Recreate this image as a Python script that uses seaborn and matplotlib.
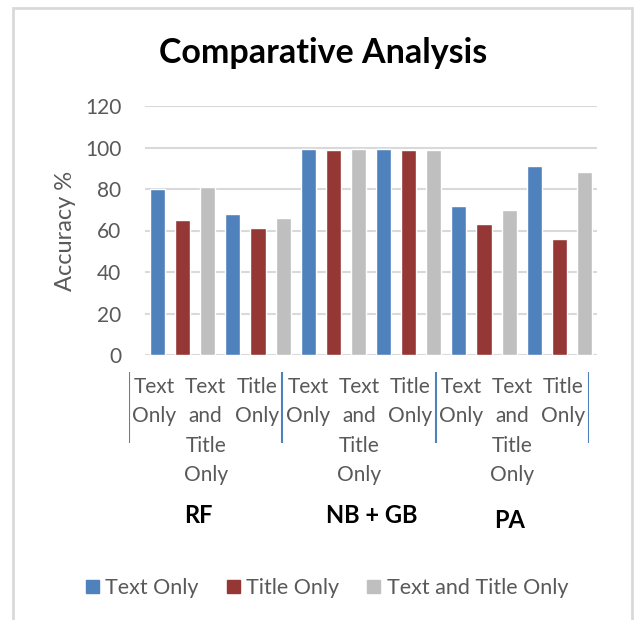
import matplotlib
matplotlib.use("Agg")
import matplotlib.pyplot as plt
import seaborn as sns
import pandas as pd
from matplotlib.patches import Rectangle

# ---- data ----
models = ["RF", "NB + GB", "PA"]
variants = ["Text\nOnly", "Text\nand\nTitle\nOnly", "Title\nOnly"]
series = ["Text Only", "Title Only", "Text and Title Only"]
text_only = [80, 68, 99.5, 99.5, 72, 91]
title_only = [65, 61, 99, 99, 63, 56]
text_title = [81, 66, 99.5, 99, 70, 88]
yticks = [0, 20, 40, 60, 80, 100, 120]

colors = {"Text Only": "#4F81BD", "Title Only": "#953735",
          "Text and Title Only": "#BFBFBF"}
GRAY = "#595959"

rows = []
k = 0
for i in range(len(text_only)):
    for s, vals in zip(series, [text_only, title_only, text_title]):
        rows.append({"slot": f"s{k:02d}", "series": s, "value": vals[i]})
        k += 1
df = pd.DataFrame(rows)
order = list(df["slot"])

sns.set_style("white")
plt.rcParams["font.family"] = ["Lato", "DejaVu Sans"]

W, H = 634, 620
fig = plt.figure(figsize=(W / 100, H / 100), dpi=100)

def fx(px):
    return px / W

def fy(py):
    return 1 - py / H

ax = fig.add_axes([fx(145), fy(355), fx(597) - fx(145), fy(106) - fy(355)])
sns.barplot(data=df, x="slot", y="value", hue="series", order=order,
            hue_order=series, palette=colors, dodge=False, width=0.6,
            ax=ax, legend=False, saturation=1)
ax.set_xlim(-0.5, len(order) - 0.5)
ax.set_ylim(0, 120)
ax.set_yticks(yticks)
ax.set_xticks([])
ax.set_xlabel("")
ax.set_ylabel("")
ax.yaxis.grid(True, color="#D9D9D9", lw=1.5)
ax.set_axisbelow(True)
for sp in ax.spines.values():
    sp.set_visible(False)
ax.tick_params(axis="y", length=0, pad=17, labelsize=15, labelcolor=GRAY)

fig.text(fx(66), fy(231), "Accuracy %", rotation=90, ha="center",
         va="center", fontsize=17, color=GRAY)

fig.text(fx(323), fy(53), "Comparative Analysis", ha="center", va="center",
         fontsize=24.5, fontweight="bold", color="black")

# category axis
ax2 = fig.add_axes([fx(129), fy(443), fx(589) - fx(129), fy(372) - fy(443)])
ax2.set_xlim(0, 9)
ax2.set_ylim(0, 1)
ax2.axis("off")
ax2.vlines([0, 3, 6, 9], 0, 1, color="#4F81BD", lw=1.5)
for g in range(len(models)):
    for j, v in enumerate(variants):
        ax2.text(g * 3 + j + 0.5, 0.93, v, ha="center", va="top",
                 fontsize=15, color=GRAY, linespacing=1.58, clip_on=False)
group_x = [1.35, 4.75, 7.44]
group_y = [-1.02, -1.02, -1.09]
for gx, gy, m in zip(group_x, group_y, models):
    ax2.text(gx, gy, m, ha="center", va="center", fontsize=17,
             fontweight="bold", color="black", clip_on=False)

# legend
handles = [Rectangle((0, 0), 1, 1, color=colors[s]) for s in series]
fig.legend(handles, series, loc="center", bbox_to_anchor=(fx(327), fy(588)),
           ncol=3, frameon=False, fontsize=15.5, handlelength=0.6,
           handleheight=0.6, handletextpad=0.3, columnspacing=1.3,
           labelcolor=GRAY)

# outer border
fig.add_artist(Rectangle((fx(13), -0.1), fx(632) - fx(13), fy(8) + 0.1,
                         transform=fig.transFigure, fill=False,
                         edgecolor="#D9D9D9", lw=2))

fig.savefig("out.png", dpi=100)
